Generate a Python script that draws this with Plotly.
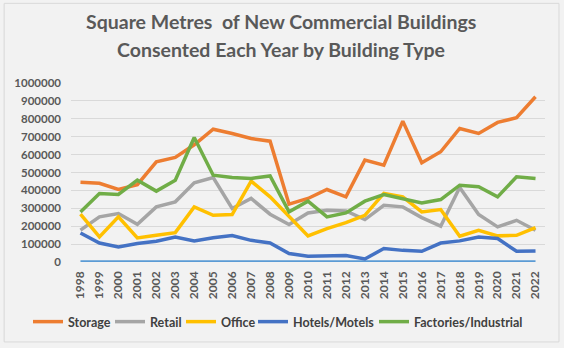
import plotly.graph_objects as go

years = [str(y) for y in range(1998, 2023)]
storage = [445000, 440000, 405000, 432000, 560000, 584000, 655000, 742000, 718000, 690000, 675000,
           323000, 355000, 405000, 364000, 569000, 541000, 787000, 554000, 616000, 746000, 718000,
           780000, 806000, 923000]
retail = [178000, 252000, 271000, 211000, 308000, 336000, 442000, 472000, 299000, 355000, 267000,
          209000, 274000, 289000, 285000, 237000, 317000, 308000, 248000, 200000, 416000, 265000,
          196000, 233000, 177000]
office = [267000, 140000, 252000, 134000, 149000, 164000, 308000, 261000, 265000, 452000, 364000,
          252000, 146000, 187000, 220000, 261000, 383000, 364000, 280000, 293000, 144000, 177000,
          146000, 149000, 192000]
hotels = [162000, 106000, 84000, 103000, 116000, 140000, 118000, 136000, 148000, 121000, 106000,
          47000, 32000, 32000, 36000, 17000, 75000, 65000, 60000, 106000, 118000, 140000,
          131000, 60000, 62000]
factories = [280000, 383000, 377000, 457000, 396000, 457000, 696000, 485000, 472000, 467000, 481000,
             280000, 340000, 252000, 274000, 340000, 377000, 351000, 330000, 349000, 429000, 420000,
             364000, 476000, 467000]
other = [0] * len(years)

series = [
    ("Storage", storage, "#ED7D31"),
    ("Retail", retail, "#A5A5A5"),
    ("Office", office, "#FFC000"),
    ("Hotels/Motels", hotels, "#4472C4"),
    ("Factories/Industrial", factories, "#70AD47"),
]
legend_text_x = [67, 149, 220, 292, 413]

FONT = "Lato"
W, H = 564, 348
ML, MR, MT, MB = 70.5, 18.5, 83, 86.3
PW, PH = W - ML - MR, H - MT - MB

fig = go.Figure()
fig.add_trace(go.Scatter(x=years, y=other, mode="lines", line=dict(color="#5B9BD5", width=3.5),
                         showlegend=False, hoverinfo="skip"))
legends = {}
for i, (name, vals, col) in enumerate(series):
    lg = "legend" if i == 0 else f"legend{i + 1}"
    fig.add_trace(go.Scatter(x=years, y=vals, mode="lines", name=name, legend=lg,
                             line=dict(color=col, width=3.5)))
    legends[lg] = dict(orientation="h", x=(legend_text_x[i] - 39) / W, xref="container", xanchor="left",
                       y=(H - 322) / H, yref="container", yanchor="middle",
                       font=dict(size=12.5, color="#404040", family=FONT, weight="bold"),
                       itemwidth=30, bgcolor="rgba(0,0,0,0)", borderwidth=0)

def px_x(x):
    return (x - ML) / PW

def px_y(y):
    return (H - MB - y) / PH

fig.update_layout(
    width=W, height=H,
    paper_bgcolor="#F2F2F2", plot_bgcolor="#F2F2F2",
    margin=dict(l=ML, r=MR, t=MT, b=MB, autoexpand=False),
    font=dict(family=FONT, color="#595959"),
    xaxis=dict(type="category", tickangle=-90, showgrid=False, zeroline=False, showline=False,
               tickfont=dict(size=12, color="#595959", family=FONT, weight="bold"), ticks="",
               ticklabelstandoff=6, range=[-0.5, len(years) - 0.5]),
    yaxis=dict(range=[0, 1000000], dtick=100000, tickformat="d", gridcolor="#D9D9D9", gridwidth=1,
               zeroline=False, showline=False, ticks="", ticklabelstandoff=9,
               tickfont=dict(size=11.5, color="#595959", family=FONT, weight="bold")),
    **legends,
)
fig.add_annotation(text="<b>Square Metres  of New Commercial Buildings</b>", xref="paper", yref="paper",
                   x=px_x(281), y=px_y(22), showarrow=False, xanchor="center", yanchor="middle",
                   font=dict(size=19.5, color="#595959", family=FONT))
fig.add_annotation(text="<b>Consented Each Year by Building Type</b>", xref="paper", yref="paper",
                   x=px_x(281), y=px_y(50), showarrow=False, xanchor="center", yanchor="middle",
                   font=dict(size=19.5, color="#595959", family=FONT))
# outer border
fig.add_shape(type="rect", xref="paper", yref="paper",
              x0=px_x(3.5), x1=px_x(559.5), y0=px_y(341.5), y1=px_y(3.5),
              line=dict(color="#D9D9D9", width=1), layer="below")
fig.write_html("out.html")
